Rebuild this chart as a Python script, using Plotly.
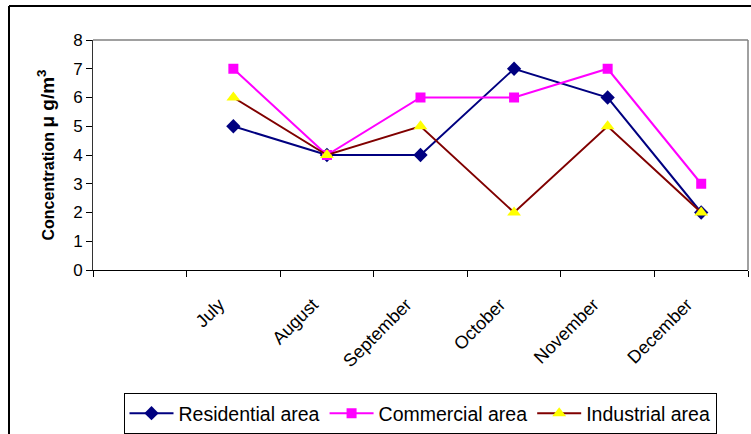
import plotly.graph_objects as go

months = [" ", "July", "August", "September", "October", "November", "December"]
x_months = ["July", "August", "September", "October", "November", "December"]
residential = [5, 4, 4, 7, 6, 2]
commercial = [7, 4, 6, 6, 7, 3]
industrial = [6, 4, 5, 2, 5, 2]

W, H = 751, 434
L, R, T, B = 93, 3, 40, 164
pw, ph = W - L - R, H - T - B

def px_x(px):
    return (px - L) / pw

def px_y(py):
    return (H - B - py) / ph

fig = go.Figure()
fig.add_trace(go.Scatter(x=x_months, y=residential, name="Residential area", mode="lines+markers",
                         line=dict(color="#000080", width=2),
                         marker=dict(symbol="diamond", size=11, color="#000080")))
fig.add_trace(go.Scatter(x=x_months, y=commercial, name="Commercial area", mode="lines+markers",
                         line=dict(color="#FF00FF", width=2),
                         marker=dict(symbol="square", size=10, color="#FF00FF")))
fig.add_trace(go.Scatter(x=x_months, y=industrial, name="Industrial area", mode="lines+markers",
                         line=dict(color="#800000", width=2),
                         marker=dict(symbol="triangle-up", size=12, color="#FFFF00")))

fig.update_layout(
    width=W, height=H,
    margin=dict(l=L, r=R, t=T, b=B, autoexpand=False),
    paper_bgcolor="white", plot_bgcolor="white",
    font=dict(family="Arial, Liberation Sans, sans-serif", color="black", size=17),
    showlegend=True,
    legend=dict(orientation="h", x=px_x(420), xanchor="center", y=px_y(393), yanchor="top",
                bordercolor="black", borderwidth=1, font=dict(size=19.5),
                itemwidth=44, tracegroupgap=0),
    xaxis=dict(type="category", categoryorder="array", categoryarray=months,
               range=[-0.5, 6.5], tickangle=-45, ticks="outside", ticklen=6,
               tickson="boundaries", tickcolor="black", showline=True, linecolor="black",
               linewidth=1, showgrid=False, zeroline=False, tickfont=dict(size=18),
               automargin=False, ticklabelshift=-14, ticklabelstandoff=16),
    yaxis=dict(range=[0, 8], dtick=1, ticks="outside", ticklen=6, tickcolor="black",
               showline=True, linecolor="#333333", linewidth=1, showgrid=False, zeroline=False,
               tickfont=dict(size=17), automargin=False,
               title=dict(text="<b>Concentration <span style='font-size:19px'>μ g/m<sup>3</sup></span></b>",
                          font=dict(size=16), standoff=14)),
    shapes=[
        dict(type="line", xref="paper", yref="paper", x0=0, x1=1, y0=1, y1=1,
             line=dict(color="#808080", width=1.5)),
        dict(type="line", xref="paper", yref="paper", x0=1, x1=1, y0=0, y1=1,
             line=dict(color="#808080", width=1.5)),
        dict(type="line", xref="paper", yref="paper", x0=px_x(9), x1=px_x(9), y0=px_y(440), y1=px_y(6),
             line=dict(color="black", width=2)),
        dict(type="line", xref="paper", yref="paper", x0=px_x(9), x1=px_x(760), y0=px_y(6), y1=px_y(6),
             line=dict(color="black", width=2)),
    ],
)

fig.write_html("out.html", config={"displayModeBar": False},
               post_script="document.body.style.margin='0';document.body.style.overflow='hidden';")
